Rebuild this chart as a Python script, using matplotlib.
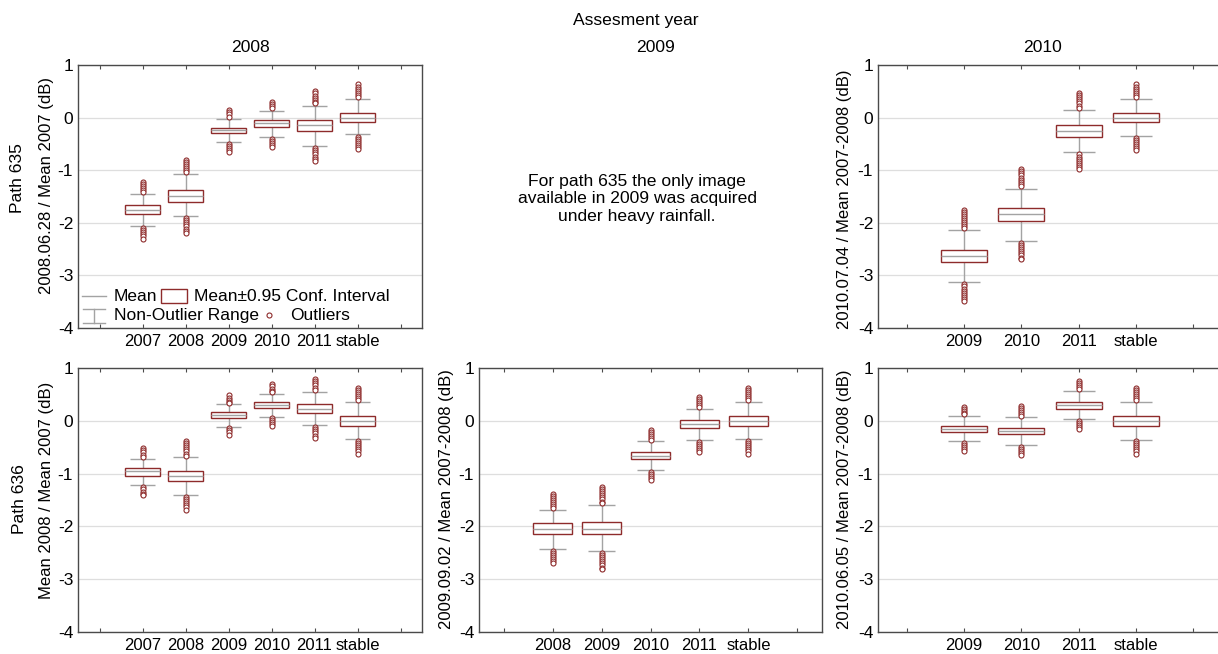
import numpy as np
import matplotlib
matplotlib.use("Agg")
import matplotlib.pyplot as plt
from matplotlib.patches import Rectangle
from matplotlib.lines import Line2D

plt.rcParams["font.family"] = ["Liberation Sans", "DejaVu Sans"]
plt.rcParams["font.size"] = 12
plt.rcParams["axes.unicode_minus"] = False

# path 635, assessment 2008 (top left)
cats_a = ["2007", "2008", "2009", "2010", "2011", "stable"]
mean_a = [-1.76, -1.49, -0.24, -0.11, -0.15, 0.00]
ci_hi_a = [-1.67, -1.38, -0.19, -0.05, -0.05, 0.095]
ci_lo_a = [-1.84, -1.60, -0.30, -0.18, -0.25, -0.09]
wh_hi_a = [-1.46, -1.08, -0.02, 0.13, 0.23, 0.36]
wh_lo_a = [-2.06, -1.87, -0.46, -0.36, -0.54, -0.32]
out_a = [
    [-1.22, -1.26, -1.30, -1.34, -1.38, -1.42, -2.10, -2.14, -2.18, -2.22, -2.26, -2.30],
    [-0.80, -0.84, -0.88, -0.92, -0.96, -1.00, -1.04, -1.91, -1.95, -1.99, -2.03, -2.07, -2.11, -2.15, -2.19],
    [0.14, 0.10, 0.06, 0.02, -0.50, -0.54, -0.58, -0.62, -0.65],
    [0.30, 0.26, 0.22, 0.18, -0.40, -0.44, -0.48, -0.52, -0.56],
    [0.50, 0.46, 0.42, 0.38, 0.34, 0.30, 0.27, -0.58, -0.62, -0.66, -0.70, -0.74, -0.78, -0.82],
    [0.63, 0.59, 0.55, 0.51, 0.47, 0.43, 0.39, -0.36, -0.40, -0.44, -0.48, -0.52, -0.56, -0.60],
]

# path 635, assessment 2010 (top right)
cats_b = ["2009", "2010", "2011", "stable"]
mean_b = [-2.63, -1.84, -0.25, 0.00]
ci_hi_b = [-2.51, -1.72, -0.15, 0.095]
ci_lo_b = [-2.75, -1.97, -0.36, -0.09]
wh_hi_b = [-2.13, -1.35, 0.145, 0.36]
wh_lo_b = [-3.13, -2.34, -0.66, -0.35]
out_b = [
    [-1.75, -1.79, -1.83, -1.87, -1.91, -1.95, -1.99, -2.03, -2.07, -2.10,
     -3.17, -3.21, -3.25, -3.29, -3.33, -3.37, -3.41, -3.45, -3.49],
    [-0.98, -1.02, -1.06, -1.10, -1.14, -1.18, -1.22, -1.26, -1.30,
     -2.38, -2.42, -2.46, -2.50, -2.54, -2.58, -2.62, -2.66, -2.69],
    [0.47, 0.43, 0.39, 0.35, 0.31, 0.27, 0.23, 0.19, -0.70, -0.74, -0.78, -0.82, -0.86, -0.90, -0.94, -0.98],
    [0.63, 0.59, 0.55, 0.51, 0.47, 0.43, 0.39, -0.38, -0.42, -0.46, -0.50, -0.54, -0.58, -0.62],
]

# path 636, assessment 2008 (bottom left)
cats_c = ["2007", "2008", "2009", "2010", "2011", "stable"]
mean_c = [-0.96, -1.04, 0.11, 0.30, 0.23, 0.00]
ci_hi_c = [-0.90, -0.95, 0.165, 0.355, 0.32, 0.09]
ci_lo_c = [-1.04, -1.14, 0.045, 0.235, 0.145, -0.09]
wh_hi_c = [-0.72, -0.69, 0.31, 0.51, 0.55, 0.355]
wh_lo_c = [-1.22, -1.40, -0.11, 0.08, -0.08, -0.35]
out_c = [
    [-0.52, -0.56, -0.60, -0.64, -0.68, -1.26, -1.30, -1.34, -1.38, -1.41],
    [-0.38, -0.42, -0.46, -0.50, -0.54, -0.58, -0.62, -0.66, -1.44, -1.48, -1.52, -1.56, -1.60, -1.64, -1.68],
    [0.48, 0.44, 0.40, 0.36, 0.33, -0.14, -0.18, -0.22, -0.26],
    [0.69, 0.65, 0.61, 0.57, 0.54, 0.05, 0.01, -0.03, -0.07, -0.10],
    [0.79, 0.75, 0.71, 0.67, 0.63, 0.59, -0.12, -0.16, -0.20, -0.24, -0.28, -0.32],
    [0.63, 0.59, 0.55, 0.51, 0.47, 0.43, 0.39, -0.38, -0.42, -0.46, -0.50, -0.54, -0.58, -0.62],
]

# path 636, assessment 2009 (bottom middle)
cats_d = ["2008", "2009", "2010", "2011", "stable"]
mean_d = [-2.04, -2.04, -0.66, -0.065, 0.00]
ci_hi_d = [-1.94, -1.92, -0.59, 0.01, 0.09]
ci_lo_d = [-2.15, -2.15, -0.73, -0.145, -0.095]
wh_hi_d = [-1.68, -1.59, -0.38, 0.23, 0.36]
wh_lo_d = [-2.42, -2.46, -0.93, -0.36, -0.35]
out_d = [
    [-1.38, -1.42, -1.46, -1.50, -1.54, -1.58, -1.62, -1.65, -2.46, -2.50, -2.54, -2.58, -2.62, -2.66, -2.69],
    [-1.25, -1.29, -1.33, -1.37, -1.41, -1.45, -1.49, -1.53, -1.56,
     -2.50, -2.54, -2.58, -2.62, -2.66, -2.70, -2.74, -2.78, -2.81],
    [-0.17, -0.21, -0.25, -0.29, -0.33, -0.37, -0.97, -1.01, -1.05, -1.09, -1.12],
    [0.46, 0.42, 0.38, 0.34, 0.30, 0.26, -0.40, -0.44, -0.48, -0.52, -0.56, -0.59],
    [0.63, 0.59, 0.55, 0.51, 0.47, 0.43, 0.39, -0.38, -0.42, -0.46, -0.50, -0.54, -0.58, -0.62],
]

# path 636, assessment 2010 (bottom right)
cats_e = ["2009", "2010", "2011", "stable"]
mean_e = [-0.15, -0.19, 0.29, 0.00]
ci_hi_e = [-0.09, -0.13, 0.36, 0.09]
ci_lo_e = [-0.21, -0.25, 0.22, -0.10]
wh_hi_e = [0.095, 0.07, 0.56, 0.35]
wh_lo_e = [-0.39, -0.45, 0.03, -0.355]
out_e = [
    [0.27, 0.23, 0.19, 0.15, 0.12, -0.42, -0.46, -0.50, -0.54, -0.58],
    [0.28, 0.24, 0.20, 0.16, 0.12, 0.09, -0.49, -0.53, -0.57, -0.61, -0.65],
    [0.76, 0.72, 0.68, 0.64, 0.60, 0.00, -0.04, -0.08, -0.12, -0.15],
    [0.63, 0.59, 0.55, 0.51, 0.47, 0.43, 0.39, -0.38, -0.42, -0.46, -0.50, -0.54, -0.58, -0.62],
]

RED = "#8e2b2b"
GRAY = "#a3a3a3"
SPINE = "#4a4a4a"

W, H = 1218, 654
fig = plt.figure(figsize=(W / 100, H / 100), dpi=100)


def px_axes(x0, y0, x1, y1):
    return fig.add_axes([x0 / W, 1 - y1 / H, (x1 - x0) / W, (y1 - y0) / H])


def ftext(x, y, s, **kw):
    fig.text(x / W, 1 - y / H, s, ha="center", va="center", **kw)


def draw_panel(ax, cats, mean, ci_lo, ci_hi, wh_lo, wh_hi, outl):
    pos = np.arange(1, len(cats) + 1)
    ax.vlines(pos, wh_lo, wh_hi, color=GRAY, lw=1, zorder=2)
    ax.hlines(wh_lo, pos - 0.28, pos + 0.28, color=GRAY, lw=1, zorder=2)
    ax.hlines(wh_hi, pos - 0.28, pos + 0.28, color=GRAY, lw=1, zorder=2)
    ax.bar(pos, np.subtract(ci_hi, ci_lo), bottom=ci_lo, width=0.8,
           facecolor="white", edgecolor=RED, lw=1, zorder=3)
    ax.hlines(mean, pos - 0.4, pos + 0.4, color=GRAY, lw=1, zorder=4)
    for p, o in zip(pos, outl):
        ax.plot([p] * len(o), o, ls="none", marker="o", ms=3.6, mfc="white",
                mec=RED, mew=0.8, zorder=5)
    ax.set_xlim(-0.5, len(cats) + 1.5)
    ax.set_ylim(-4, 1)
    ax.set_xticks(np.arange(0, len(cats) + 2))
    ax.set_xticklabels([""] + cats + [""])
    ax.set_yticks(range(-4, 2))
    ax.grid(axis="y", color="#dedede", lw=0.9)
    ax.set_axisbelow(True)
    ax.tick_params(axis="x", direction="in", top=True, length=3, pad=4.5,
                   color=SPINE, labelsize=12)
    ax.tick_params(axis="y", length=0, pad=3.5, labelsize=12.5)
    for s in ax.spines.values():
        s.set_color(SPINE)
        s.set_linewidth(1)


ax_a = px_axes(78, 65, 422, 328)
draw_panel(ax_a, cats_a, mean_a, ci_lo_a, ci_hi_a, wh_lo_a, wh_hi_a, out_a)
ax_b = px_axes(878, 65, 1222, 328)
draw_panel(ax_b, cats_b, mean_b, ci_lo_b, ci_hi_b, wh_lo_b, wh_hi_b, out_b)
ax_b.spines["right"].set_visible(False)
ax_c = px_axes(78, 368, 422, 632)
draw_panel(ax_c, cats_c, mean_c, ci_lo_c, ci_hi_c, wh_lo_c, wh_hi_c, out_c)
ax_d = px_axes(479, 368, 822, 632)
draw_panel(ax_d, cats_d, mean_d, ci_lo_d, ci_hi_d, wh_lo_d, wh_hi_d, out_d)
ax_e = px_axes(878, 368, 1222, 632)
draw_panel(ax_e, cats_e, mean_e, ci_lo_e, ci_hi_e, wh_lo_e, wh_hi_e, out_e)
ax_e.spines["right"].set_visible(False)

# legend drawn by hand in the top-left panel
t = ax_a.transAxes
ax_a.add_line(Line2D([0.012, 0.081], [0.122, 0.122], transform=t, color=GRAY, lw=1))
ax_a.text(0.105, 0.118, "Mean", transform=t, va="center", fontsize=12.5)
ax_a.add_patch(Rectangle((0.241, 0.095), 0.076, 0.053, transform=t,
                         facecolor="white", edgecolor=RED, lw=1, zorder=6))
ax_a.text(0.337, 0.118, "Mean±0.95 Conf. Interval", transform=t, va="center", fontsize=12.5)
ax_a.add_line(Line2D([0.047, 0.047], [0.019, 0.072], transform=t, color=GRAY, lw=1))
ax_a.add_line(Line2D([0.015, 0.078], [0.072, 0.072], transform=t, color=GRAY, lw=1))
ax_a.add_line(Line2D([0.015, 0.078], [0.019, 0.019], transform=t, color=GRAY, lw=1))
ax_a.text(0.105, 0.049, "Non-Outlier Range", transform=t, va="center", fontsize=12.5)
ax_a.plot([0.555], [0.049], transform=t, marker="o", ms=3.6, mfc="white",
          mec=RED, mew=0.8, ls="none", zorder=6)
ax_a.text(0.616, 0.049, "Outliers", transform=t, va="center", fontsize=12.5)

# headings and axis labels
ftext(636, 20, "Assesment year", fontsize=12.6)
ftext(250, 47, "2008", fontsize=12.6)
ftext(656, 48, "2009", fontsize=12.6)
ftext(1042, 47, "2010", fontsize=12.6)
ftext(637, 199, "For path 635 the only image\navailable in 2009 was acquired\nunder heavy rainfall.",
      fontsize=12.6, linespacing=1.2)

ftext(17, 178, "Path 635", rotation=90, fontsize=12.6)
ftext(47, 185, "2008.06.28 / Mean 2007 (dB)", rotation=90, fontsize=12)
ftext(19, 499, "Path 636", rotation=90, fontsize=12.6)
ftext(47, 490, "Mean 2008 / Mean 2007 (dB)", rotation=90, fontsize=12)
ftext(446, 499, "2009.09.02 / Mean 2007-2008 (dB)", rotation=90, fontsize=12)
ftext(845, 199, "2010.07.04 / Mean 2007-2008 (dB)", rotation=90, fontsize=12)
ftext(845, 499, "2010.06.05 / Mean 2007-2008 (dB)", rotation=90, fontsize=12)

fig.savefig("out.png", dpi=100)
